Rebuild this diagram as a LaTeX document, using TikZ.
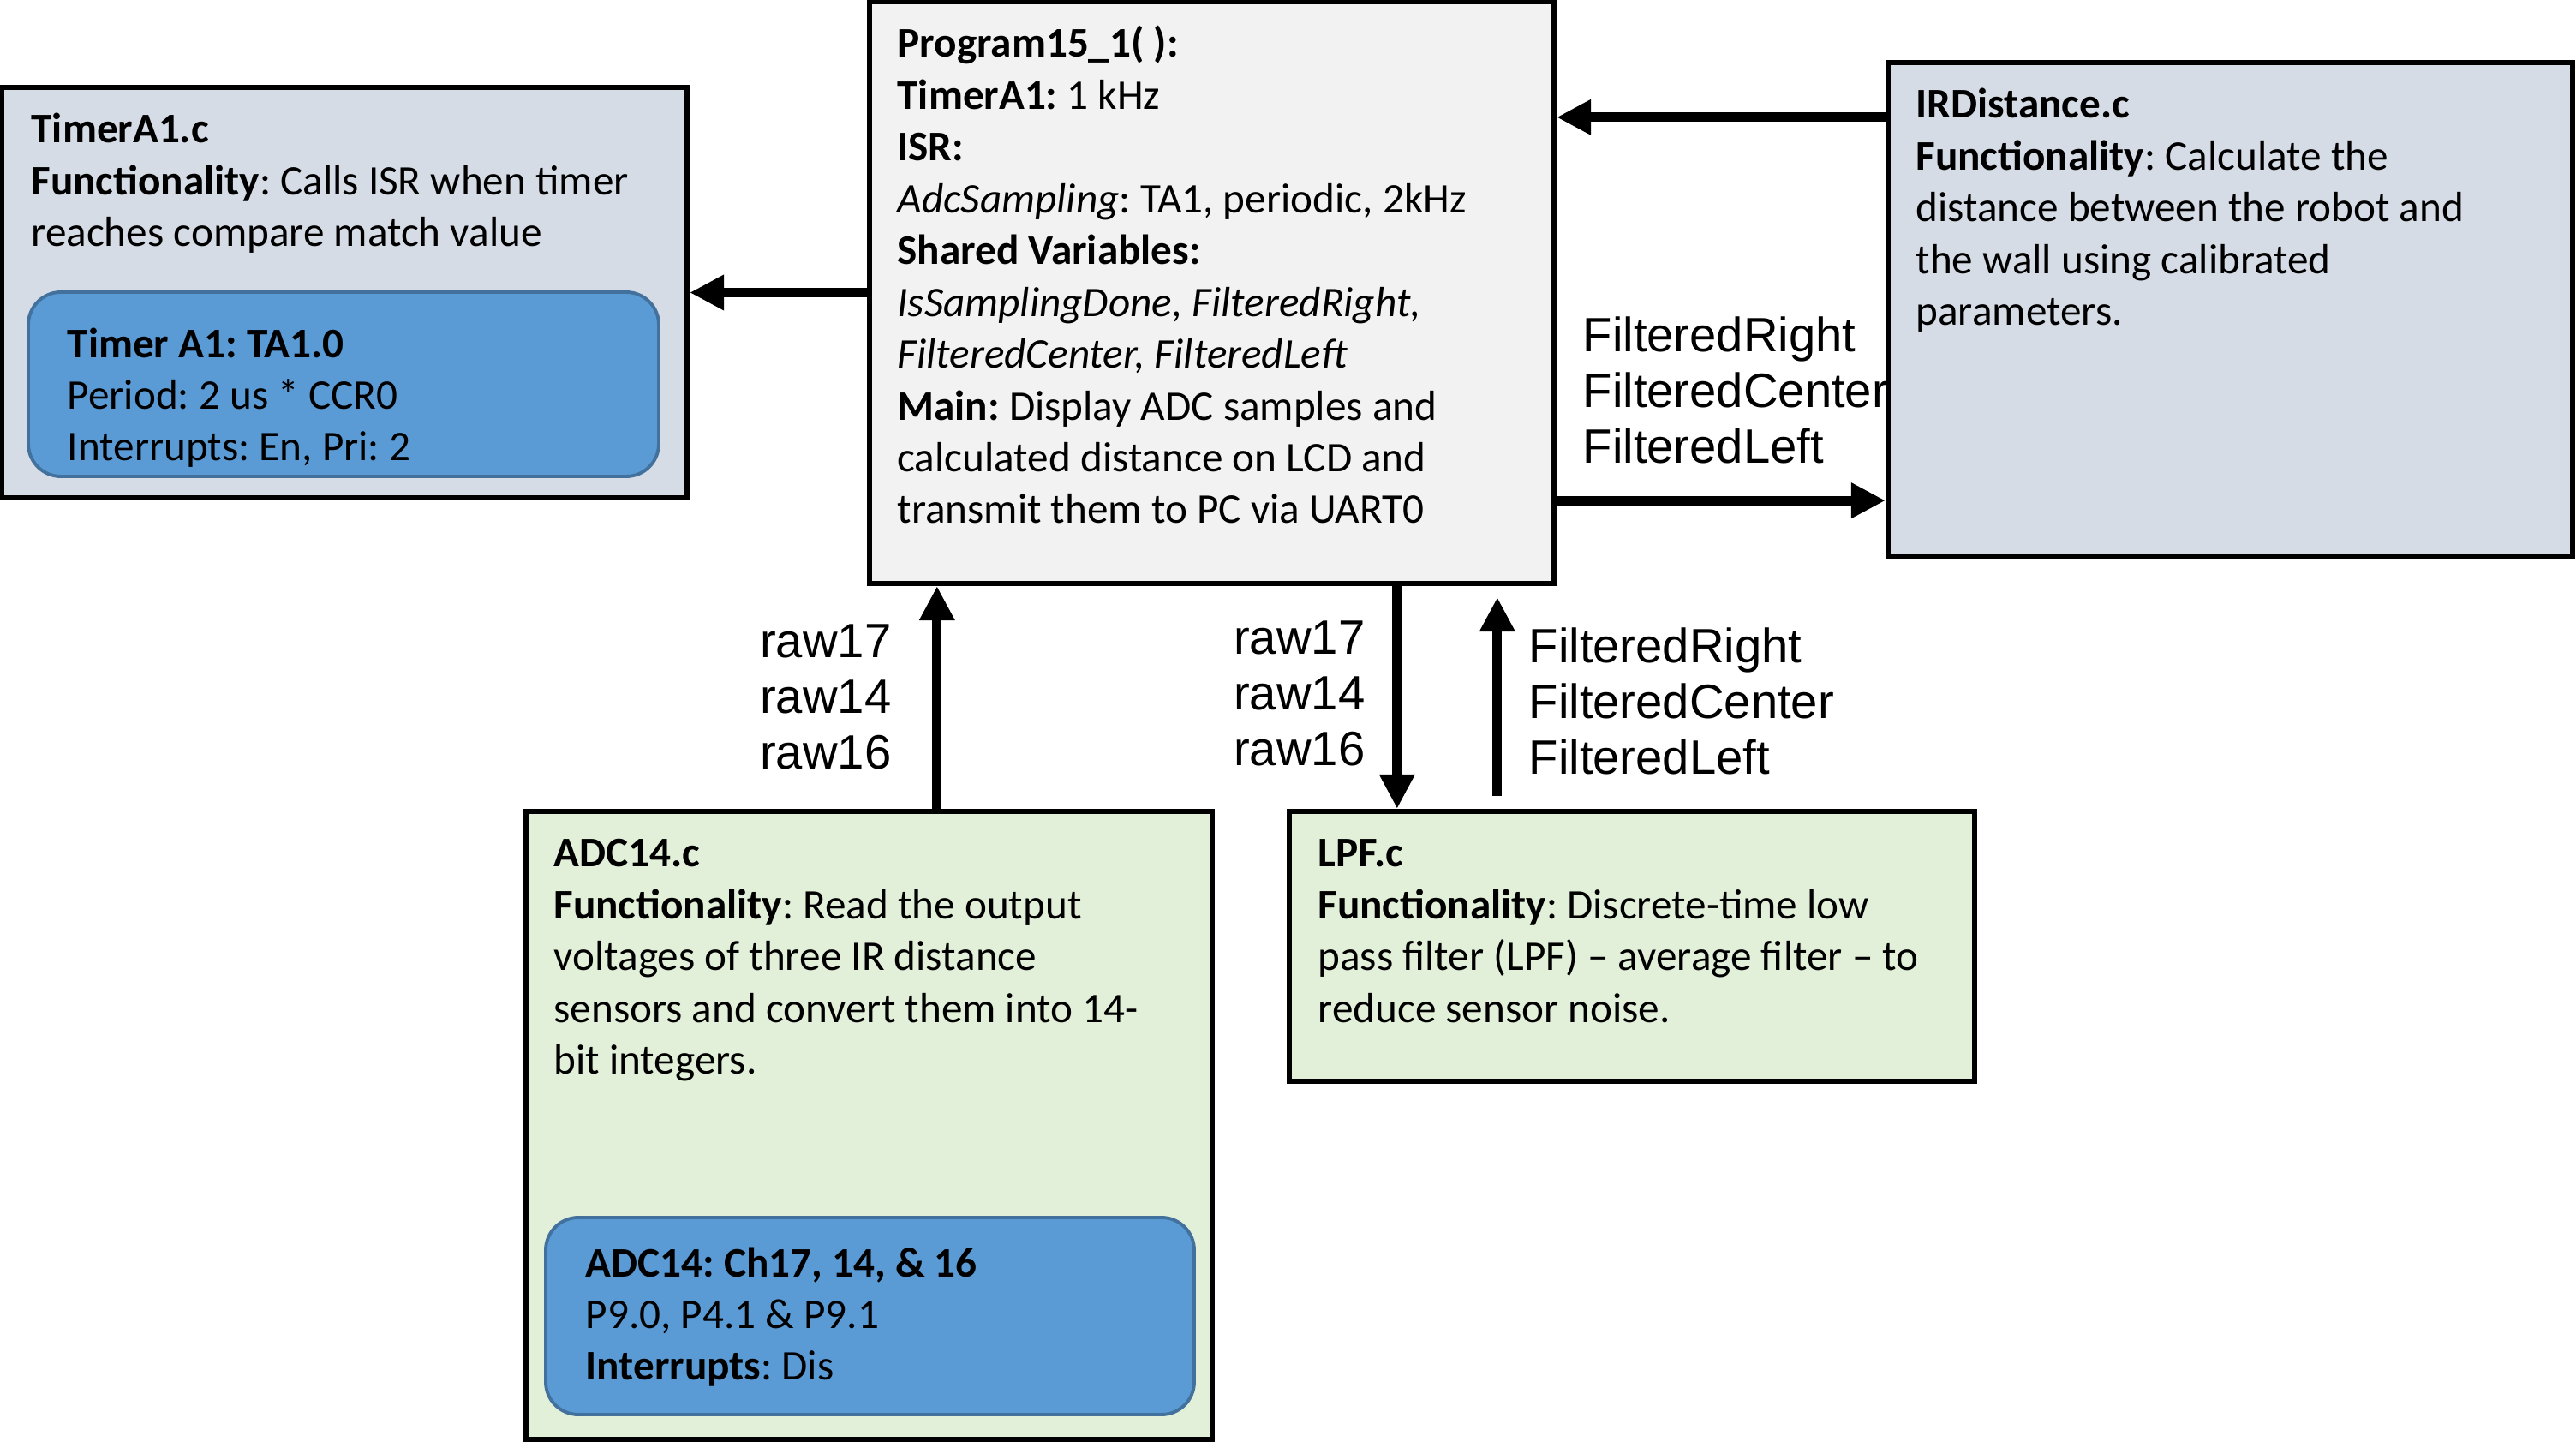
\documentclass[tikz,border=0pt]{standalone}
\usepackage{fontspec}
\setmainfont{Carlito}
\newfontfamily\arialfont{Liberation Sans}
\usetikzlibrary{arrows.meta,positioning}
\definecolor{modgrey}{HTML}{D6DCE5}
\definecolor{maingrey}{HTML}{F2F2F2}
\definecolor{modgreen}{HTML}{E2F0D9}
\definecolor{hwblue}{HTML}{5B9BD5}
\definecolor{hwedge}{HTML}{41719C}
\frenchspacing

\begin{document}
\begin{tikzpicture}[
    modbox/.style={draw=black, line width=1.8pt, inner sep=0pt},
    hwbox/.style={draw=hwedge, fill=hwblue, line width=1.1pt, rounded corners=0.38cm, inner sep=0pt},
    boxtext/.style={anchor=north west, align=left, inner sep=0pt, font=\fontsize{14}{17.2}\selectfont},
    sigtext/.style={inner sep=0pt, font=\arialfont\fontsize{16}{18.4}\selectfont},
    flow/.style={-{Triangle[length=0.4cm,width=0.39cm]}, line width=3.1pt}]
    \useasboundingbox (0,0) rectangle (30.07,16.82);

    \node[modbox, fill=modgrey, minimum width=8cm, minimum height=4.79cm] (timer) at (4.02,13.405) {};
    \node[hwbox, minimum width=7.36cm, minimum height=2.15cm] (timerhw) at (4.01,12.335) {};
    \node[modbox, fill=maingrey, minimum width=7.99cm, minimum height=6.79cm] (prog) at (14.145,13.405) {};
    \node[modbox, fill=modgrey, minimum width=7.99cm, minimum height=5.77cm] (ird) at (26.035,13.205) {};
    \node[modbox, fill=modgreen, minimum width=8.01cm, minimum height=7.33cm] (adc) at (10.145,3.685) {};
    \node[hwbox, minimum width=7.57cm, minimum height=2.3cm] (adchw) at (10.155,1.46) {};
    \node[modbox, fill=modgreen, minimum width=8cm, minimum height=3.15cm] (lpf) at (19.05,5.775) {};

    \node[boxtext, below right=0.25cm and 0.37cm of timer.north west] (timertxt)
        {\strut\textbf{TimerA1.c}\\
         \textbf{Functionality}: Calls ISR when timer\\
         reaches compare match value};
    \node[boxtext, below right=0.35cm and 0.47cm of timerhw.north west] (timerhwtxt)
        {\strut\textbf{Timer A1: TA1.0}\\
         Period: 2 us * CCR0\\
         Interrupts: En, Pri: 2};
    \node[boxtext, below right=0.25cm and 0.35cm of prog.north west] (progtxt)
        {\strut\textbf{Program15\_1( ):}\\
         \textbf{TimerA1:} 1 kHz\\
         \textbf{ISR:}\\
         \textit{AdcSampling}: TA1, periodic, 2kHz\\
         \textbf{Shared Variables:}\\
         \textit{IsSamplingDone, FilteredRight,}\\
         \textit{FilteredCenter, FilteredLeft}\\
         \textbf{Main:} Display ADC samples and\\
         calculated distance on LCD and\\
         transmit them to PC via UART0};
    \node[boxtext, below right=0.25cm and 0.35cm of ird.north west] (irdtxt)
        {\strut\textbf{IRDistance.c}\\
         \textbf{Functionality}: Calculate the\\
         distance between the robot and\\
         the wall using calibrated\\
         parameters.};
    \node[boxtext, below right=0.25cm and 0.35cm of adc.north west] (adctxt)
        {\strut\textbf{ADC14.c}\\
         \textbf{Functionality}: Read the output\\
         voltages of three IR distance\\
         sensors and convert them into 14-\\
         bit integers.};
    \node[boxtext, below right=0.28cm and 0.48cm of adchw.north west] (adchwtxt)
        {\strut\textbf{ADC14: Ch17, 14, \& 16}\\
         P9.0, P4.1 \& P9.1\\
         \textbf{Interrupts}: Dis};
    \node[boxtext, below right=0.25cm and 0.36cm of lpf.north west] (lpftxt)
        {\strut\textbf{LPF.c}\\
         \textbf{Functionality}: Discrete-time low\\
         pass filter (LPF) – average filter – to\\
         reduce sensor noise.};

    \node[sigtext, align=left, anchor=north west] (irdin) at (18.47,13.17)
        {\strut FilteredRight\\FilteredCenter\\FilteredLeft};
    \node[sigtext, align=right, anchor=north east] (adcout) at (10.41,9.60)
        {\strut raw17\\raw14\\raw16};
    \node[sigtext, align=right, anchor=north east] (lpfin) at (15.94,9.64)
        {\strut raw17\\raw14\\raw16};
    \node[sigtext, align=left, anchor=north west] (lpfout) at (17.84,9.54)
        {\strut FilteredRight\\FilteredCenter\\FilteredLeft};

    \coordinate (irdsrc) at ([yshift=-0.67cm]ird.north west);
    \coordinate (irddst) at ([yshift=0.69cm]ird.south west);
    \coordinate (adcsrc) at ([xshift=0.82cm]prog.south west);
    \coordinate (lpfdst) at ([xshift=1.29cm]lpf.north west);
    \coordinate (lpfsrc) at ([xshift=2.46cm,yshift=0.15cm]lpf.north west);
    \path (prog.south -| lpfsrc) ++(0,-0.13) coordinate (lpfend);

    \draw[flow] (prog.west) -- (timer.east);
    \draw[flow] (irdsrc) -- (irdsrc -| prog.east);
    \draw[flow] (irddst -| prog.east) -- (irddst);
    \draw[flow] (adcsrc |- adc.north) -- (adcsrc);
    \draw[flow] (lpfdst |- prog.south) -- (lpfdst);
    \draw[flow] (lpfsrc) -- (lpfend);
\end{tikzpicture}
\end{document}
